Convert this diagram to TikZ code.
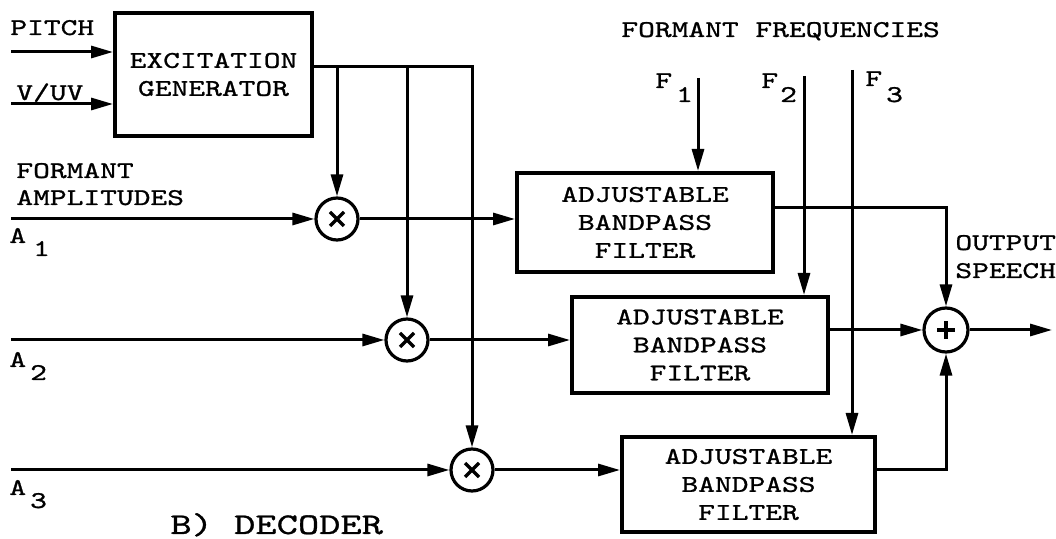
\documentclass[tikz,border=0pt]{standalone}
\usepackage{fontspec}
\usetikzlibrary{arrows.meta}
\newfontfamily\tw{lmmono10-regular}[Extension=.otf, FakeStretch=1.33, FakeBold=1]
\newfontfamily\twb{lmmono10-regular}[Extension=.otf, FakeStretch=1.35, FakeBold=1]
\newcommand\lowsub[2]{\raisebox{-#1}{#2}}
\begin{document}
\begin{tikzpicture}[x=0.5pt,y=-0.5pt,
  every node/.style={font=\tw\fontsize{12pt}{14pt}\selectfont, inner sep=0pt},
  lbl/.style={anchor=base west},
  blk/.style={draw, line width=2pt, align=center},
  conn/.style={line width=1.5pt},
  arr/.style={conn, -{Triangle[length=11pt,width=6pt]}},
  mult/.style={draw, circle, line width=1.6pt, minimum size=21pt,
    path picture={\draw[line width=1.7pt]
      ([shift={(-3.5pt,-3.5pt)}]path picture bounding box.center) -- ([shift={(3.5pt,3.5pt)}]path picture bounding box.center)
      ([shift={(-3.5pt,3.5pt)}]path picture bounding box.center) -- ([shift={(3.5pt,-3.5pt)}]path picture bounding box.center);}},
  adder/.style={draw, circle, line width=1.6pt, minimum size=22pt,
    path picture={\draw[line width=1.8pt]
      ([shift={(-4.5pt,0pt)}]path picture bounding box.center) -- ([shift={(4.5pt,0pt)}]path picture bounding box.center)
      ([shift={(0pt,-4.5pt)}]path picture bounding box.center) -- ([shift={(0pt,4.5pt)}]path picture bounding box.center);}},
]
\useasboundingbox (0,0) rectangle (1056,539);

% blocks
\node[blk, minimum width=98.5pt, minimum height=61.5pt] (gen) at (213.5,74.5) {EXCITATION\\GENERATOR};
\node[blk, minimum width=128pt, minimum height=49.5pt] (f1) at (645,222.5) {ADJUSTABLE\\BANDPASS\\FILTER};
\node[blk, minimum width=128pt, minimum height=48pt] (f2) at (700,345) {ADJUSTABLE\\BANDPASS\\FILTER};
\node[blk, minimum width=126.5pt, minimum height=47.5pt] (f3) at (748.5,484.5) {ADJUSTABLE\\BANDPASS\\FILTER};

\node[mult] (m1) at (337,219) {};
\node[mult] (m2) at (407,340) {};
\node[mult] (m3) at (472,470) {};
\node[adder] (sum) at (946,330) {};

% labels
\node[lbl] (lpitch) at (10,35) {PITCH};
\node[lbl] (lvuv) at (16,100) {V/UV};
\node[lbl] (lfa1) at (16,178) {FORMANT};
\node[lbl] (lfa2) at (16,205) {AMPLITUDES};
\node[lbl] (la1) at (9,243) {A\hspace{3.5pt}\lowsub{6.5pt}{1}};
\node[lbl] (la2) at (9,367) {A\hspace{2pt}\lowsub{6.5pt}{2}};
\node[lbl] (la3) at (9,495) {A\hspace{2pt}\lowsub{6.5pt}{3}};
\node[lbl] (lff) at (621,37) {FORMANT FREQUENCIES};
\node[lbl] (lf1) at (655,88) {F\hspace{2pt}\lowsub{7pt}{1}};
\node[lbl] (lf2) at (761,88) {F\hspace{1pt}\lowsub{7pt}{2}};
\node[lbl] (lf3) at (865,86) {F\hspace{2pt}\lowsub{8pt}{3}};
\node[lbl] (lout1) at (955,250) {OUTPUT};
\node[lbl] (lout2) at (955,278) {SPEECH};
\node[lbl, font=\twb\fontsize{15pt}{17pt}\selectfont] (ldec) at (170,534) {B) DECODER};

% coordinates for free ends
\coordinate (pin) at (11,52);
\coordinate (vin) at (11,104);
\coordinate (gy) at (0,67);
\coordinate (a1) at (11,219);
\coordinate (a2) at (11,340);
\coordinate (a3) at (11,470);
\coordinate (fq1) at (698,78);
\coordinate (fq2) at (804,76);
\coordinate (fq3) at (852,70);
\coordinate (o1y) at (0,208);
\coordinate (out) at (1052,330);

% connectors
\draw[arr] (pin) -- (pin -| gen.west);
\draw[arr] (vin) -- (vin -| gen.west);
\draw[arr] (gen.east |- gy) -| (m3.north);
\draw[arr] (m1 |- gy) -- (m1.north);
\draw[arr] (m2 |- gy) -- (m2.north);
\draw[arr] (a1) -- (m1.west);
\draw[arr] (a2) -- (m2.west);
\draw[arr] (a3) -- (m3.west);
\draw[arr] (m1.east) -- (m1.east -| f1.west);
\draw[arr] (m2.east) -- (m2.east -| f2.west);
\draw[arr] (m3.east) -- (m3.east -| f3.west);
\draw[arr] (fq1) -- (fq1 |- f1.north);
\draw[arr] (fq2) -- (fq2 |- f2.north);
\draw[arr] (fq3) -- (fq3 |- f3.north);
\draw[arr] (f1.east |- o1y) -| (sum.north);
\draw[arr] (f2.east |- sum) -- (sum.west);
\draw[arr] (f3.east |- m3) -| (sum.south);
\draw[arr] (sum.east) -- (out);
\end{tikzpicture}
\end{document}
